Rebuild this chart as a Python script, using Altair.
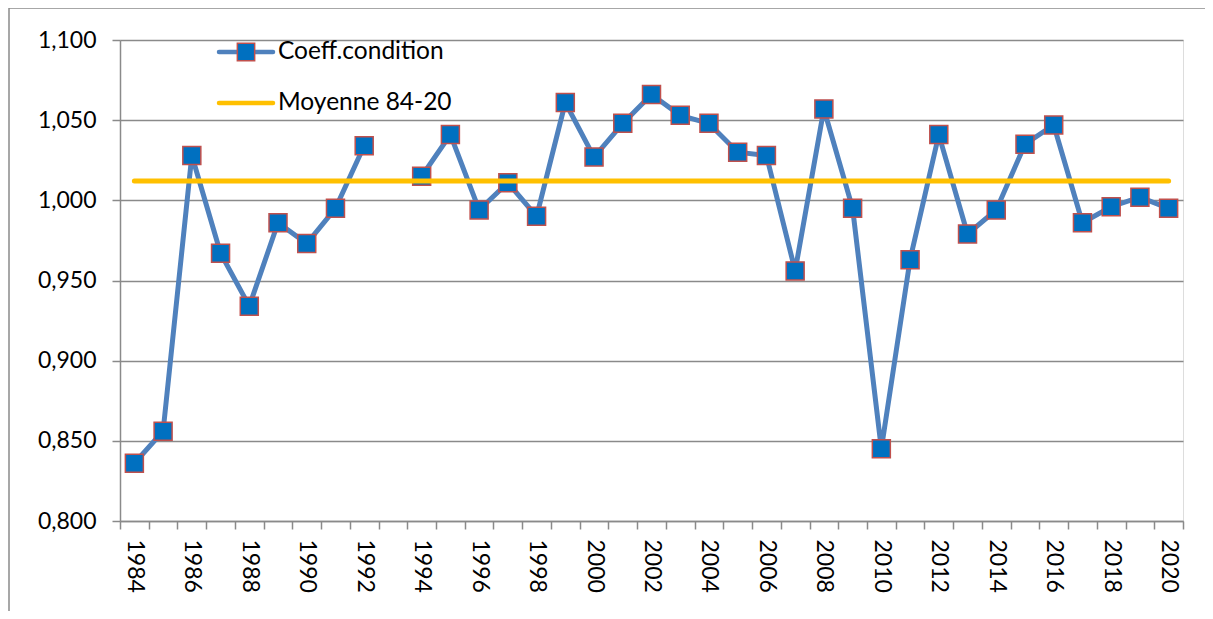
import altair as alt
import pandas as pd

years = list(range(1984, 2021))
coeff = [0.836, 0.856, 1.028, 0.967, 0.934, 0.986, 0.973, 0.995, 1.034, None,
         1.015, 1.041, 0.994, 1.011, 0.990, 1.061, 1.027, 1.048, 1.066, 1.053,
         1.048, 1.030, 1.028, 0.956, 1.057, 0.995, 0.845, 0.963, 1.041, 0.979,
         0.994, 1.035, 1.047, 0.986, 0.996, 1.002, 0.995]
mean_value = 1.012
mean_years = [1984, 2020]
y_ticks = [0.80, 0.85, 0.90, 0.95, 1.00, 1.05, 1.10]
series_labels = ["Coeff.condition", "Moyenne 84-20"]

FONT = "Lato"
GRID = "#8a8a8a"
LINE_BLUE = "#4f81bd"
MARK_FILL = "#0070c0"
MARK_STROKE = "#c0504d"
MEAN_COLOR = "#ffc000"

df = pd.DataFrame({"year": years, "coeff": coeff})
df_mean = pd.DataFrame({"year": mean_years, "coeff": [mean_value] * len(mean_years)})

x_scale = alt.Scale(type="band", domain=years, paddingInner=0, paddingOuter=0)
y_scale = alt.Scale(domain=[y_ticks[0], y_ticks[-1]], nice=False, zero=False)

x_enc = alt.X(
    "year:O", scale=x_scale, title=None,
    axis=alt.Axis(
        tickBand="extent", labelAngle=90, labelAlign="left", labelBaseline="middle",
        labelExpr="datum.value % 2 == 0 ? datum.label : ''",
        labelPadding=10, tickSize=8, tickColor=GRID, tickWidth=1.5,
        domainColor=GRID, domainWidth=1.5, grid=False,
        labelFont=FONT, labelFontSize=23, labelColor="#000000", labelOverlap=False,
    ),
)
y_enc = alt.Y(
    "coeff:Q", scale=y_scale, title=None,
    axis=alt.Axis(
        values=y_ticks, labelExpr="replace(format(datum.value, '.3f'), '.', ',')",
        tickSize=8, tickColor=GRID, tickWidth=1.5, labelPadding=16,
        domainColor=GRID, domainWidth=1.5, grid=True, gridColor=GRID, gridWidth=1.5,
        labelFont=FONT, labelFontSize=23, labelColor="#000000",
    ),
)

line = alt.Chart(df).mark_line(
    color=LINE_BLUE, strokeWidth=5, invalid="break-paths-show-domains"
).encode(x=x_enc, y=y_enc)

points = alt.Chart(df).mark_point(
    shape="square", filled=True, fill=MARK_FILL, stroke=MARK_STROKE,
    strokeWidth=1.5, size=324, opacity=1
).encode(x=x_enc, y=y_enc)

mean_line = alt.Chart(df_mean).mark_line(
    color=MEAN_COLOR, strokeWidth=5, strokeCap="round"
).encode(x=x_enc, y=y_enc)

one = pd.DataFrame({"label": [series_labels[0]]})
two = pd.DataFrame({"label": [series_labels[1]]})

leg1_line = alt.Chart(one).mark_rule(color=LINE_BLUE, strokeWidth=4.5, strokeCap="round").encode(
    x=alt.value(99), x2=alt.value(153), y=alt.value(12))
leg1_pt = alt.Chart(one).mark_point(
    shape="square", filled=True, fill=MARK_FILL, stroke=MARK_STROKE,
    strokeWidth=1.5, size=300, opacity=1).encode(x=alt.value(126), y=alt.value(12))
leg1_txt = alt.Chart(one).mark_text(
    align="left", baseline="middle", font=FONT, fontSize=24.5, color="#000000").encode(
    x=alt.value(158), y=alt.value(12), text="label:N")
leg2_line = alt.Chart(two).mark_rule(color=MEAN_COLOR, strokeWidth=4.5, strokeCap="round").encode(
    x=alt.value(99), x2=alt.value(153), y=alt.value(63))
leg2_txt = alt.Chart(two).mark_text(
    align="left", baseline="middle", font=FONT, fontSize=24.5, color="#000000").encode(
    x=alt.value(158), y=alt.value(63), text="label:N")

border_top = alt.Chart(one).mark_rule(color=GRID, strokeWidth=1.5).encode(
    x=alt.value(-111), x2=alt.value(1100), y=alt.value(-32))
border_left = alt.Chart(one).mark_rule(color=GRID, strokeWidth=1.5).encode(
    x=alt.value(-111), y=alt.value(-32), y2=alt.value(600))

chart = alt.layer(
    border_top, border_left, line, points, mean_line,
    leg1_line, leg1_pt, leg1_txt, leg2_line, leg2_txt,
).properties(
    width=1063, height=481,
    autosize=alt.AutoSizeParams(type="none"),
    padding={"left": 112, "top": 32, "right": 22, "bottom": 90},
).configure_view(stroke=None).configure(background="#ffffff")

chart.save("out.html", embed_options={"renderer": "svg", "actions": False})
